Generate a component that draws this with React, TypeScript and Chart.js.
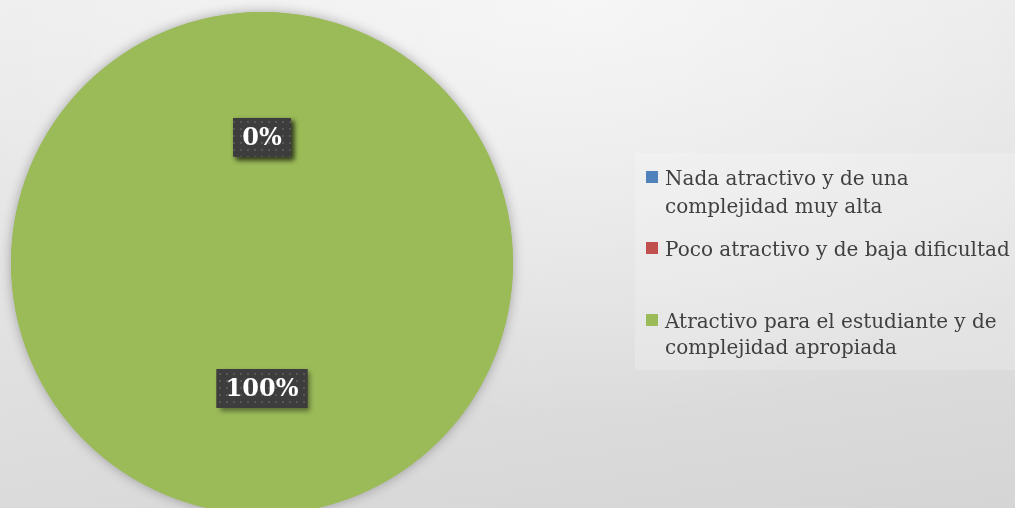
import React, { useEffect, useRef } from "react";
import { Chart, registerables } from "chart.js";

Chart.register(...registerables);

const categoryLines: string[][] = [
  ["Nada atractivo y de una", "complejidad muy alta"],
  ["Poco atractivo y de baja dificultad"],
  ["Atractivo para el estudiante y de", "complejidad apropiada"],
];
const values: number[] = [0, 0, 100];
const percentLabels: string[] = ["0%", "0%", "100%"];
const sliceColors: string[] = ["#4f81bd", "#c0504d", "#9bbb59"];

const W = 1015;
const H = 508;
const SERIF = '"DejaVu Serif", "Liberation Serif", serif';

function makePattern(ctx: CanvasRenderingContext2D) {
  const c = document.createElement("canvas");
  c.width = 7;
  c.height = 7;
  const p = c.getContext("2d")!;
  p.fillStyle = "#3d3d3d";
  p.fillRect(0, 0, 7, 7);
  p.fillStyle = "#575757";
  p.fillRect(2, 2, 2, 2);
  return ctx.createPattern(c, "repeat");
}

const shadowPlugin = {
  id: "pieShadow",
  beforeDatasetsDraw(chart: any) {
    const meta = chart.getDatasetMeta(0);
    const arc = meta.data[meta.data.length - 1];
    if (!arc) return;
    const { x, y, outerRadius } = arc.getProps(["x", "y", "outerRadius"], true);
    const ctx = chart.ctx;
    ctx.save();
    ctx.shadowColor = "rgba(0,0,0,0.3)";
    ctx.shadowBlur = 12;
    ctx.beginPath();
    ctx.arc(x, y, outerRadius, 0, Math.PI * 2);
    ctx.fillStyle = sliceColors[2];
    ctx.fill();
    ctx.restore();
  },
};

const labelPlugin = {
  id: "pctLabels",
  afterDatasetsDraw(chart: any) {
    const ctx: CanvasRenderingContext2D = chart.ctx;
    const meta = chart.getDatasetMeta(0);
    const pattern = makePattern(ctx);
    meta.data.forEach((arc: any, i: number) => {
      const pt = arc.getCenterPoint();
      const text = percentLabels[i];
      ctx.save();
      ctx.font = `bold 24px ${SERIF}`;
      const tw = ctx.measureText(text).width;
      const bw = tw + 18;
      const bh = 39;
      const bx = pt.x - bw / 2;
      const by = pt.y - bh / 2;
      ctx.shadowColor = "rgba(0,0,0,0.45)";
      ctx.shadowBlur = 5;
      ctx.shadowOffsetX = 3;
      ctx.shadowOffsetY = 3;
      ctx.fillStyle = "#3d3d3d";
      ctx.fillRect(bx, by, bw, bh);
      ctx.shadowColor = "transparent";
      ctx.fillStyle = pattern || "#3d3d3d";
      ctx.fillRect(bx, by, bw, bh);
      ctx.fillStyle = "#ffffff";
      ctx.textAlign = "center";
      ctx.textBaseline = "middle";
      ctx.fillText(text, pt.x, pt.y + 1);
      ctx.restore();
    });
  },
};

const legendPlugin = {
  id: "sideLegend",
  afterDraw(chart: any) {
    const ctx: CanvasRenderingContext2D = chart.ctx;
    ctx.save();
    ctx.fillStyle = "rgba(255,255,255,0.2)";
    ctx.fillRect(635, 153, 380, 217);
    const baselines = [[185, 213], [256], [328, 354]];
    ctx.font = `20px ${SERIF}`;
    ctx.textAlign = "left";
    ctx.textBaseline = "alphabetic";
    categoryLines.forEach((lines, i) => {
      const b0 = baselines[i][0];
      ctx.fillStyle = sliceColors[i];
      ctx.fillRect(646, b0 - 14, 12, 12);
      ctx.fillStyle = "#404040";
      lines.forEach((ln, j) => {
        ctx.fillText(ln, 665, baselines[i][j]);
      });
    });
    ctx.restore();
  },
};

export default function App() {
  const ref = useRef<HTMLCanvasElement>(null);
  useEffect(() => {
    document.body.style.margin = "0";
    const chart = new Chart(ref.current!, {
      type: "pie",
      data: {
        labels: categoryLines.map((l) => l.join(" ")),
        datasets: [
          {
            data: values,
            backgroundColor: sliceColors,
            borderWidth: 0,
            radius: 251,
          } as any,
        ],
      },
      options: {
        responsive: false,
        animation: false,
        layout: { padding: { left: 0, right: W - 524, top: 18, bottom: 0 } },
        plugins: {
          legend: { display: false },
          tooltip: { enabled: false },
        },
      },
      plugins: [shadowPlugin, labelPlugin, legendPlugin],
    });
    return () => chart.destroy();
  }, []);
  return (
    <div
      style={{
        position: "fixed",
        left: 0,
        top: 0,
        width: W,
        height: H,
        background:
          "radial-gradient(ellipse 650px 420px at 580px 0px, rgba(255,255,255,0.55), rgba(255,255,255,0)), linear-gradient(172deg, #eeeeee 0%, #e2e2e2 50%, #d5d5d5 100%)",
      }}
    >
      <canvas ref={ref} width={W} height={H} style={{ display: "block" }} />
    </div>
  );
}
